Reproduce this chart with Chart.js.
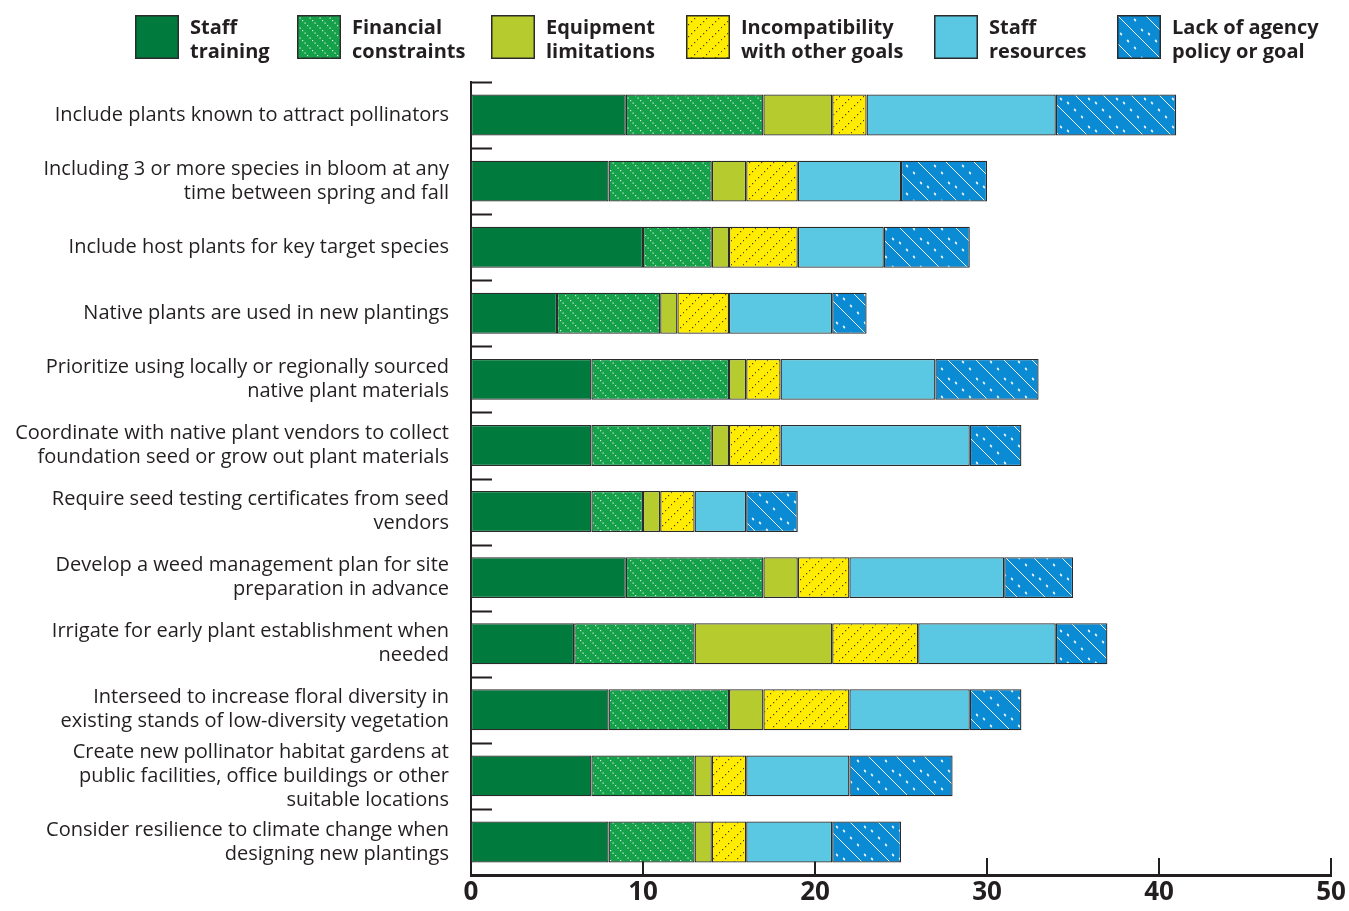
<!DOCTYPE html>
<html>
<head>
<meta charset="utf-8">
<script src="https://cdn.jsdelivr.net/npm/chart.js@4"></script>
<style>
  body { margin: 0; background: #fff; }
  #wrap { position: relative; width: 1349px; height: 911px; }
  .lg { position: absolute; top: 15px; display: flex; align-items: flex-start;
        font-family: "Open Sans", sans-serif; font-weight: bold; font-size: 20px;
        line-height: 24px; color: #231f20; }
  .lg canvas { margin-right: 11px; }
</style>
</head>
<body>
<div id="wrap">
  <canvas id="chart" width="1349" height="911"></canvas>
  <div id="legend"></div>
</div>
<script>
// Категориялар (әр жол - бөлек элемент)
const categories = [
    'Include plants known to attract pollinators',
    ['Including 3 or more species in bloom at any', 'time between spring and fall'],
    'Include host plants for key target species',
    'Native plants are used in new plantings',
    ['Prioritize using locally or regionally sourced', 'native plant materials'],
    ['Coordinate with native plant vendors to collect', 'foundation seed or grow out plant materials'],
    ['Require seed testing certificates from seed', 'vendors'],
    ['Develop a weed management plan for site', 'preparation in advance'],
    ['Irrigate for early plant establishment when', 'needed'],
    ['Interseed to increase floral diversity in', 'existing stands of low-diversity vegetation'],
    ['Create new pollinator habitat gardens at', 'public facilities, office buildings or other', 'suitable locations'],
    ['Consider resilience to climate change when', 'designing new plantings']
];

// Сериялар
const staffTraining    = [9, 8, 10, 5, 7, 7, 7, 9, 6, 8, 7, 8];
const financial        = [8, 6, 4, 6, 8, 7, 3, 8, 7, 7, 6, 5];
const equipment        = [4, 2, 1, 1, 1, 1, 1, 2, 8, 2, 1, 1];
const incompatibility  = [2, 3, 4, 3, 2, 3, 2, 3, 5, 5, 2, 2];
const staffResources   = [11, 6, 5, 6, 9, 11, 3, 9, 8, 7, 6, 5];
const lackOfAgency     = [7, 5, 5, 2, 6, 3, 3, 4, 3, 3, 6, 4];

const seriesNames = [
    ['Staff', 'training'],
    ['Financial', 'constraints'],
    ['Equipment', 'limitations'],
    ['Incompatibility', 'with other goals'],
    ['Staff', 'resources'],
    ['Lack of agency', 'policy or goal']
];
const xTicks = [0, 10, 20, 30, 40, 50];

const ink = '#231f20';
const font = '"Open Sans", sans-serif';

// Штрихтар
function makePattern(kind) {
    const c = document.createElement('canvas');
    const g = c.getContext('2d');
    if (kind === 'financial') {
        c.width = 10; c.height = 10;
        g.fillStyle = '#14a14a'; g.fillRect(0, 0, 10, 10);
        g.fillStyle = 'rgba(255,255,255,0.85)';
        for (let k = 0; k < 4; k++) g.fillRect(k * 2.5, k * 2.5, 1.2, 1.2);
    } else if (kind === 'incompat') {
        c.width = 12; c.height = 12;
        g.fillStyle = '#ffec00'; g.fillRect(0, 0, 12, 12);
        g.fillStyle = 'rgba(40,40,30,0.85)';
        for (let k = 0; k < 4; k++) g.fillRect(11 - k * 3, k * 3, 1.2, 1.2);
    } else {
        c.width = 28; c.height = 28;
        g.fillStyle = '#0a8bd3'; g.fillRect(0, 0, 28, 28);
        g.strokeStyle = 'rgba(255,255,255,0.95)';
        g.lineWidth = 1;
        g.beginPath(); g.moveTo(-2, -2); g.lineTo(30, 30); g.stroke();
        g.fillStyle = 'rgba(255,255,255,0.9)';
        [[18, 5], [4, 19], [25, 15], [11, 26]].forEach(p => {
            g.beginPath(); g.ellipse(p[0], p[1], 1, 1.6, -0.6, 0, Math.PI * 2); g.fill();
        });
    }
    return g.createPattern(c, 'repeat');
}

const fills = [
    '#007b3d',
    makePattern('financial'),
    '#b5cb2e',
    makePattern('incompat'),
    '#5ac8e2',
    makePattern('agency')
];
const seriesData = [staffTraining, financial, equipment, incompatibility, staffResources, lackOfAgency];

// Легенда
const legendLeft = [135, 297, 491, 686, 934, 1117];
const legendEl = document.getElementById('legend');
seriesNames.forEach((name, i) => {
    const item = document.createElement('div');
    item.className = 'lg';
    item.style.left = legendLeft[i] + 'px';
    const sw = document.createElement('canvas');
    sw.width = 44; sw.height = 44;
    const sg = sw.getContext('2d');
    sg.fillStyle = '#2b2b2b'; sg.fillRect(0, 0, 44, 44);
    sg.fillStyle = fills[i]; sg.fillRect(1.5, 1.5, 41, 41);
    item.appendChild(sw);
    const t = document.createElement('div');
    t.innerHTML = name.join('<br>');
    item.appendChild(t);
    legendEl.appendChild(item);
});

// Ось белгілері (ішке қараған)
const axisMarks = {
    id: 'axisMarks',
    beforeDatasetsDraw(chart) {
        const ctx = chart.ctx;
        const a = chart.chartArea;
        const x = chart.scales.x;
        ctx.save();
        ctx.strokeStyle = ink;
        ctx.lineWidth = 2;
        ctx.beginPath();
        xTicks.slice(1).forEach(v => {
            const px = Math.round(x.getPixelForValue(v));
            ctx.moveTo(px, a.bottom - 17); ctx.lineTo(px, a.bottom);
        });
        const slot = (a.bottom - a.top) / categories.length;
        for (let i = 0; i < categories.length; i++) {
            const py = Math.round(a.top + i * slot) + 0.5;
            ctx.moveTo(a.left, py); ctx.lineTo(a.left + 21, py);
        }
        ctx.stroke();
        ctx.restore();
    }
};

new Chart(document.getElementById('chart'), {
    type: 'bar',
    data: {
        labels: categories,
        datasets: seriesData.map((d, i) => ({
            label: seriesNames[i].join(' '),
            data: d,
            backgroundColor: fills[i],
            borderColor: '#2b2b2b',
            borderWidth: 1.3,
            borderSkipped: false,
            barPercentage: 0.62,
            categoryPercentage: 1
        }))
    },
    options: {
        responsive: false,
        animation: false,
        indexAxis: 'y',
        layout: { padding: { top: 82, right: 18, left: 0, bottom: 0 } },
        plugins: { legend: { display: false }, tooltip: { enabled: false } },
        scales: {
            x: {
                stacked: true, min: 0, max: 50,
                afterBuildTicks: s => { s.ticks = xTicks.map(v => ({ value: v })); },
                ticks: { color: ink, padding: 2, font: { family: font, size: 26, weight: 'bold' } },
                grid: { display: false, drawTicks: false },
                border: { display: true, color: ink, width: 3 },
                afterFit: s => { s.height = 36; }
            },
            y: {
                stacked: true,
                ticks: { color: ink, padding: 22, autoSkip: false, font: { family: font, size: 20, lineHeight: 1.2 } },
                grid: { display: false, drawTicks: false },
                border: { display: true, color: ink, width: 2 },
                afterFit: s => { s.width = 471; }
            }
        }
    },
    plugins: [axisMarks]
});
</script>
</body>
</html>
